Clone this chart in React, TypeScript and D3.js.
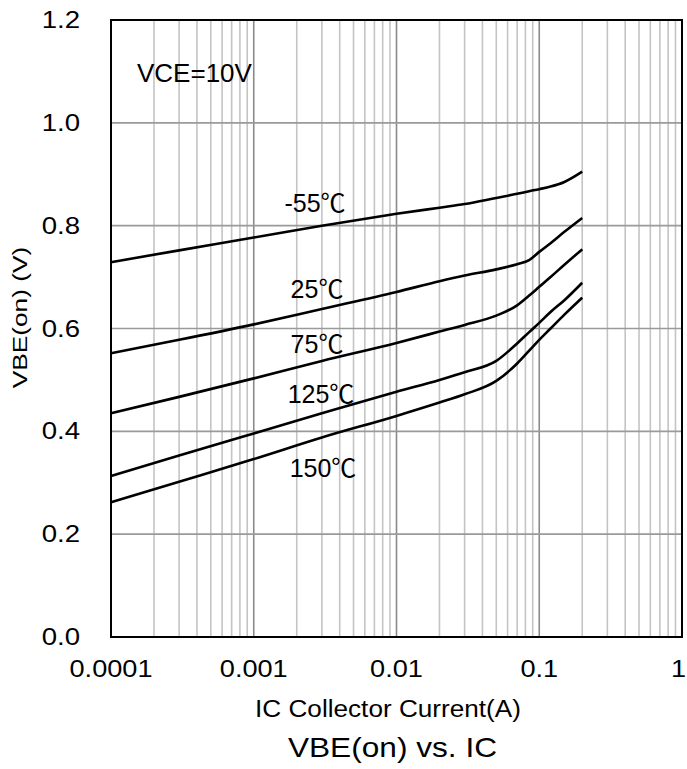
import React from "react";
import * as d3 from "d3";

// Collector current sample points (A)
const currentA = [0.0001, 0.0003, 0.001, 0.003, 0.01, 0.02, 0.03, 0.05, 0.07, 0.085, 0.1, 0.12, 0.15, 0.2];

// VBE(on) in volts at each current, one array per junction temperature
const vbeM55 = [0.729, 0.752, 0.777, 0.8, 0.823, 0.835, 0.842, 0.854, 0.862, 0.867, 0.871, 0.876, 0.885, 0.905];
const vbe25 = [0.552, 0.578, 0.608, 0.638, 0.671, 0.692, 0.703, 0.715, 0.725, 0.733, 0.749, 0.766, 0.788, 0.815];
const vbe75 = [0.435, 0.467, 0.503, 0.537, 0.572, 0.594, 0.607, 0.625, 0.645, 0.664, 0.681, 0.7, 0.724, 0.754];
const vbe125 = [0.313, 0.353, 0.396, 0.435, 0.477, 0.5, 0.515, 0.537, 0.571, 0.593, 0.611, 0.632, 0.655, 0.689];
const vbe150 = [0.262, 0.302, 0.346, 0.388, 0.43, 0.456, 0.472, 0.498, 0.532, 0.557, 0.578, 0.6, 0.627, 0.66];

const seriesLabels = ["-55℃", "25℃", "75℃", "125℃", "150℃"];
const seriesValues = [vbeM55, vbe25, vbe75, vbe125, vbe150];

const xTicks = [0.0001, 0.001, 0.01, 0.1, 1];
const xTickLabels = ["0.0001", "0.001", "0.01", "0.1", "1"];
const yTicks = [0, 0.2, 0.4, 0.6, 0.8, 1.0, 1.2];
const yTickLabels = ["0.0", "0.2", "0.4", "0.6", "0.8", "1.0", "1.2"];

const W = 687;
const H = 769;
const plot = { left: 111, right: 682, top: 20, bottom: 637 };
const FONT = "'Liberation Sans', Arial, 'Noto Sans CJK JP', sans-serif";

// Label anchor positions for each temperature curve (center x, baseline y)
const labelPos: [number, number][] = [
  [315, 212],
  [317, 298],
  [317, 353],
  [321, 403],
  [323, 477],
];

export default function App() {
  const x = d3.scaleLog().domain([0.0001, 1]).range([plot.left, plot.right]);
  const y = d3.scaleLinear().domain([0, 1.2]).range([plot.bottom, plot.top]);

  const minor: number[] = [];
  for (let e = -4; e < 0; e++) {
    for (let m = 2; m <= 9; m++) minor.push(m * Math.pow(10, e));
  }
  const majorX = [0.001, 0.01, 0.1];
  const gridY = yTicks.filter((v) => v > 0 && v < 1.2);

  const line = d3
    .line<[number, number]>()
    .x((d) => x(d[0]))
    .y((d) => y(d[1]))
    .curve(d3.curveMonotoneX);

  return (
    <svg
      width={W}
      height={H}
      style={{ position: "absolute", left: 0, top: 0, background: "#fff" }}
      fontFamily={FONT}
    >
      <rect x={0} y={0} width={W} height={H} fill="#fff" />
      {/* minor vertical grid */}
      {minor.map((v) => (
        <line key={"mn" + v} x1={x(v)} x2={x(v)} y1={plot.top} y2={plot.bottom} stroke="#c4c4c4" strokeWidth={1.6} />
      ))}
      {/* decade lines */}
      {majorX.map((v) => (
        <line key={"mj" + v} x1={x(v)} x2={x(v)} y1={plot.top} y2={plot.bottom} stroke="#8a8a8a" strokeWidth={1.6} />
      ))}
      {/* horizontal grid */}
      {gridY.map((v) => (
        <line key={"gy" + v} x1={plot.left} x2={plot.right} y1={y(v)} y2={y(v)} stroke="#9a9a9a" strokeWidth={1.6} />
      ))}
      {/* frame */}
      <rect
        x={plot.left}
        y={plot.top}
        width={plot.right - plot.left}
        height={plot.bottom - plot.top}
        fill="none"
        stroke="#000"
        strokeWidth={2}
      />
      {/* curves */}
      {seriesValues.map((vals, i) => (
        <path
          key={"s" + i}
          d={line(currentA.map((c, k) => [c, vals[k]] as [number, number])) || ""}
          fill="none"
          stroke="#000"
          strokeWidth={2.6}
          strokeLinejoin="round"
        />
      ))}
      {/* curve labels */}
      {seriesLabels.map((t, i) => (
        <text key={"l" + i} x={labelPos[i][0]} y={labelPos[i][1]} fontSize={25} textAnchor="middle" fill="#000">
          {t}
        </text>
      ))}
      <text x={137} y={82} fontSize={26} fill="#000">
        VCE=10V
      </text>
      {/* y tick labels */}
      {yTicks.map((v, i) => (
        <text
          key={"yt" + v}
          transform={`translate(80,${y(v) + 8}) scale(1.2,1)`}
          fontSize={23}
          textAnchor="end"
          fill="#000"
        >
          {yTickLabels[i]}
        </text>
      ))}
      {/* x tick labels; the last one is kept inside the right edge */}
      {xTicks.map((v, i) => {
        const last = i === xTicks.length - 1;
        return (
          <text
            key={"xt" + v}
            transform={`translate(${last ? W - 1 : x(v)},677) scale(1.18,1)`}
            fontSize={23}
            textAnchor={last ? "end" : "middle"}
            fill="#000"
          >
            {xTickLabels[i]}
          </text>
        );
      })}
      {/* axis titles */}
      <text transform="translate(388,717) scale(1.09,1)" fontSize={24} textAnchor="middle" fill="#000">
        IC Collector Current(A)
      </text>
      <text transform="translate(27,317.5) rotate(-90) scale(1.25,1)" fontSize={21} textAnchor="middle" fill="#000">
        VBE(on) (V)
      </text>
      <text transform="translate(392.5,757) scale(1.13,1)" fontSize={28} textAnchor="middle" fill="#000">
        VBE(on) vs. IC
      </text>
    </svg>
  );
}
